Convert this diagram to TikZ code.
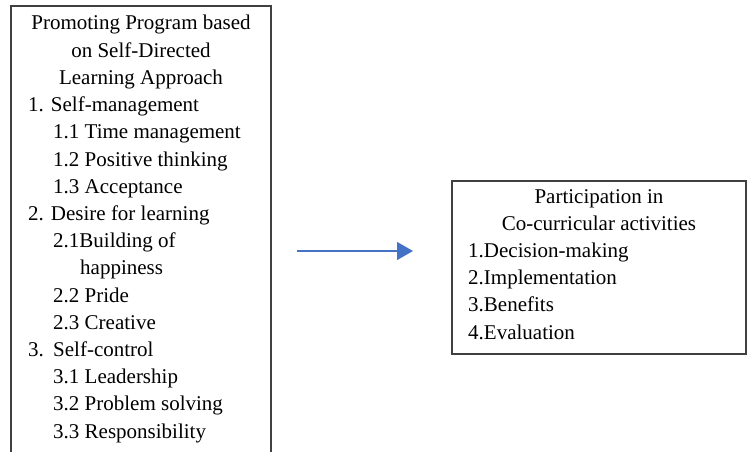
\documentclass[tikz,border=0pt]{standalone}
\usepackage{fontspec}
\setmainfont{Liberation Serif}
\usetikzlibrary{arrows.meta}
\definecolor{boxgray}{HTML}{404040}
\definecolor{arrowblue}{HTML}{4472C4}

\begin{document}
\begin{tikzpicture}[x=1pt,y=-1pt]
	  \useasboundingbox (0,0) rectangle (747,452);
	  \clip (0,0) rectangle (747,452);
	  \tikzset{BoxStyle/.style = {draw			= boxgray,
	  								line width	= 1.4pt}}

	  \tikzset{TitleStyle/.style = {anchor		= base,
	  								inner sep	= 0pt,
	  								font		= \rmfamily\fontsize{21}{27}\selectfont}}

	  \tikzset{ItemStyle/.style = {anchor		= base west,
	  								inner sep	= 0pt,
	  								font		= \rmfamily\fontsize{21}{27}\selectfont}}

	  \tikzset{ArrowStyle/.style = {draw		= arrowblue,
	  								line width	= 1.3pt,
	  								-{Triangle[length=16pt,width=18pt]}}}

	     % frames
	     \draw[BoxStyle] (11,6) rectangle (271,470);
	     \draw[BoxStyle] (452,181) rectangle (746,354);

	     % left box
	     \node[TitleStyle](P_1) at (141,30) {Promoting Program based};
	     \node[TitleStyle](P_2) at (141,57.2) {on Self-Directed};
	     \node[TitleStyle](P_3) at (141,84.4) {Learning Approach};
	     \node[ItemStyle](S_1) at (28,111.6) {1. Self-management};
	     \node[ItemStyle](S_11) at (53,138.8) {1.1 Time management};
	     \node[ItemStyle](S_12) at (53,166) {1.2 Positive thinking};
	     \node[ItemStyle](S_13) at (53,193.2) {1.3 Acceptance};
	     \node[ItemStyle](S_2) at (28,220.4) {2. Desire for learning};
	     \node[ItemStyle](S_21) at (53,247.6) {2.1Building of};
	     \node[ItemStyle](S_21b) at (80,274.8) {happiness};
	     \node[ItemStyle](S_22) at (53,302) {2.2 Pride};
	     \node[ItemStyle](S_23) at (53,329.2) {2.3 Creative};
	     \node[ItemStyle](S_3) at (28,356.4) {\makebox[25pt][l]{3.}Self-control};
	     \node[ItemStyle](S_31) at (53,383.6) {3.1 Leadership};
	     \node[ItemStyle](S_32) at (53,410.8) {3.2 Problem solving};
	     \node[ItemStyle](S_33) at (53,438) {3.3 Responsibility};

	     % right box
	     \node[TitleStyle](R_1) at (599,203) {Participation in};
	     \node[TitleStyle](R_2) at (599,230.2) {Co-curricular activities};
	     \node[ItemStyle](C_1) at (468,257.4) {1.Decision-making};
	     \node[ItemStyle](C_2) at (468,284.6) {2.Implementation};
	     \node[ItemStyle](C_3) at (468,311.8) {3.Benefits};
	     \node[ItemStyle](C_4) at (468,339) {4.Evaluation};

	     \coordinate (A_s) at (297,251);
	     \coordinate (A_e) at (413,251);
	     \draw[ArrowStyle](A_s) -- (A_e);

	  \end{tikzpicture}
\end{document}
